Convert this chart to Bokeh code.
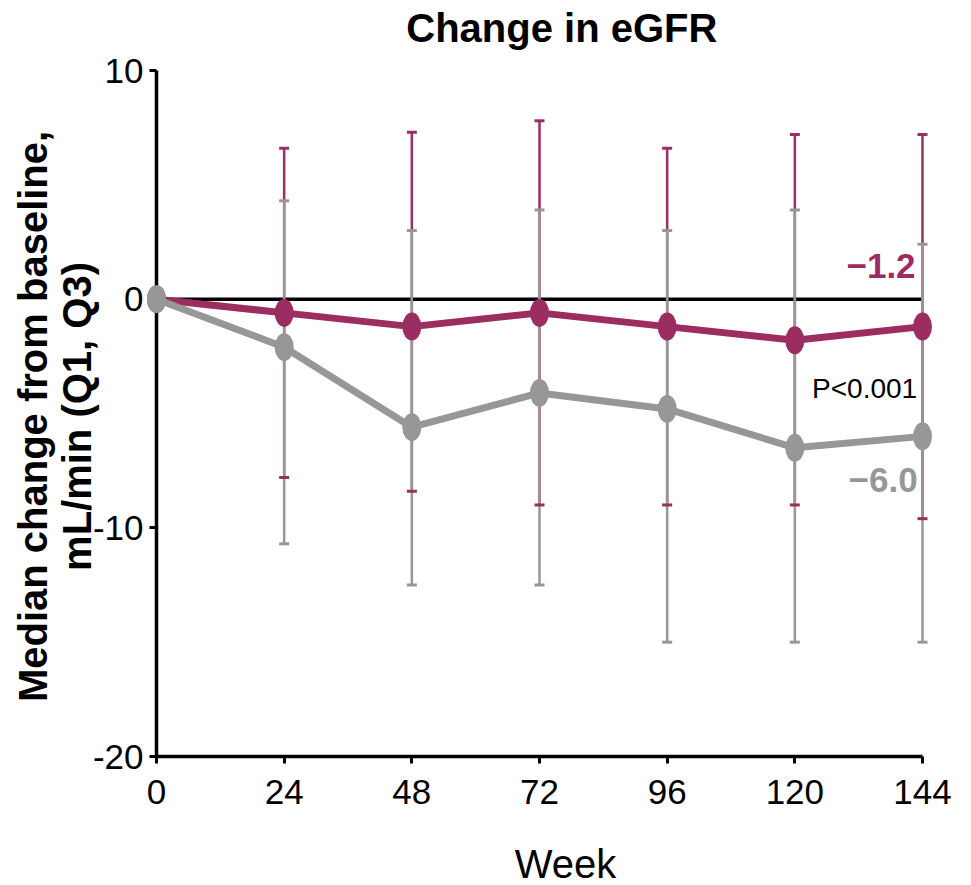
import math
from bokeh.plotting import figure
from bokeh.models import Range1d, FixedTicker
from bokeh.core.properties import value
from bokeh.embed import file_html
from bokeh.resources import INLINE

# ---- data ----
weeks = [0, 24, 48, 72, 96, 120, 144]
err_weeks = [24, 48, 72, 96, 120, 144]

treat_median = [0, -0.6, -1.2, -0.6, -1.2, -1.8, -1.2]
treat_q3 = [6.6, 7.3, 7.8, 6.6, 7.2, 7.2]
treat_q1 = [-7.8, -8.4, -9.0, -9.0, -9.0, -9.6]

ctrl_median = [0, -2.1, -5.6, -4.1, -4.8, -6.5, -6.0]
ctrl_q3 = [4.3, 3.0, 3.9, 3.0, 3.9, 2.4]
ctrl_q1 = [-10.7, -12.5, -12.5, -15.0, -15.0, -15.0]

y_ticks = [-20, -10, 0, 10]
y_tick_labels = {-20: "-20", -10: "-10", 0: "0", 10: "10"}
x_ticks = weeks

title_text = "Change in eGFR"
x_label = "Week"
y_label_lines = ["Median change from baseline,", "mL/min (Q1, Q3)"]
p_text = "P<0.001"

PURPLE = "#9B2D61"
GRAY = "#979797"
FONT = "Liberation Sans"

p = figure(width=971, height=885, output_backend="svg", toolbar_location=None,
           x_range=Range1d(0, 144), y_range=Range1d(-20, 10),
           min_border_left=156, min_border_right=49, min_border_top=70, min_border_bottom=129)
p.outline_line_color = None
p.xgrid.visible = False
p.ygrid.visible = False
p.background_fill_color = "white"
p.border_fill_color = "white"

for ax in (p.xaxis[0], p.yaxis[0]):
    ax.axis_line_width = 3.5
    ax.axis_line_color = "black"
    ax.major_tick_line_width = 3
    ax.major_tick_line_color = "black"
    ax.major_tick_out = 7
    ax.major_tick_in = 0
    ax.minor_tick_line_color = None
    ax.major_label_text_font = FONT
    ax.major_label_text_font_size = "35px"
    ax.major_label_text_color = "black"

p.xaxis.ticker = FixedTicker(ticks=x_ticks)
p.xaxis.major_label_standoff = 16
p.yaxis.ticker = FixedTicker(ticks=y_ticks)
p.yaxis.major_label_overrides = y_tick_labels
p.yaxis.major_label_standoff = 6

# zero reference line
p.line([weeks[0], weeks[-1]], [0, 0], line_color="black", line_width=3.5)

# whiskers
p.segment(err_weeks, treat_q1, err_weeks, treat_q3, line_color=PURPLE, line_width=2.5, level="overlay")
p.segment(err_weeks, ctrl_q1, err_weeks, ctrl_q3, line_color=GRAY, line_width=2.5, level="overlay")
# caps
p.scatter(err_weeks, ctrl_q3, marker="dash", size=10, line_color=GRAY, line_width=3, level="overlay")
p.scatter(err_weeks, ctrl_q1, marker="dash", size=10, line_color=GRAY, line_width=3, level="overlay")
p.scatter(err_weeks, treat_q3, marker="dash", size=10, line_color=PURPLE, line_width=3, level="overlay")
p.scatter(err_weeks, treat_q1, marker="dash", size=10, line_color=PURPLE, line_width=3, level="overlay")

# series lines and markers
p.line(weeks, treat_median, line_color=PURPLE, line_width=7, level="overlay")
p.ellipse(weeks, treat_median, width=19, height=28, width_units="screen", height_units="screen",
          fill_color=PURPLE, line_color=None, level="overlay")
p.line(weeks, ctrl_median, line_color=GRAY, line_width=7, level="overlay")
p.ellipse(weeks, ctrl_median, width=19, height=28, width_units="screen", height_units="screen",
          fill_color=GRAY, line_color=None, level="overlay")


# text (as overlay-level text glyphs so nothing is clipped at the frame)
def add_text(x, y, text, size, style="normal", align="center", angle=0.0, color="black"):
    p.text(x=[x], y=[y], text=[text], angle=angle,
           text_font=value(FONT), text_font_size=value(size),
           text_font_style=value(style), text_align=value(align),
           text_baseline=value("middle"), text_color=color, level="overlay")


add_text(76.2, 11.86, title_text, "40px", style="bold")
add_text(76.9, -24.72, x_label, "40px")
add_text(-23.2, -5.13, y_label_lines[0], "40px", style="bold", angle=math.pi / 2)
add_text(-15.0, -5.13, y_label_lines[1], "40px", style="bold", angle=math.pi / 2)
add_text(143.0, -3.9, p_text, "28px", align="right")
add_text(142.7, 1.43, "\u2212%.1f" % abs(treat_median[-1]), "35px", style="bold",
         align="right", color=PURPLE)
add_text(143.1, -7.93, "\u2212%.1f" % abs(ctrl_median[-1]), "35px", style="bold",
         align="right", color=GRAY)

open("out.html", "w").write(file_html(p, INLINE))
